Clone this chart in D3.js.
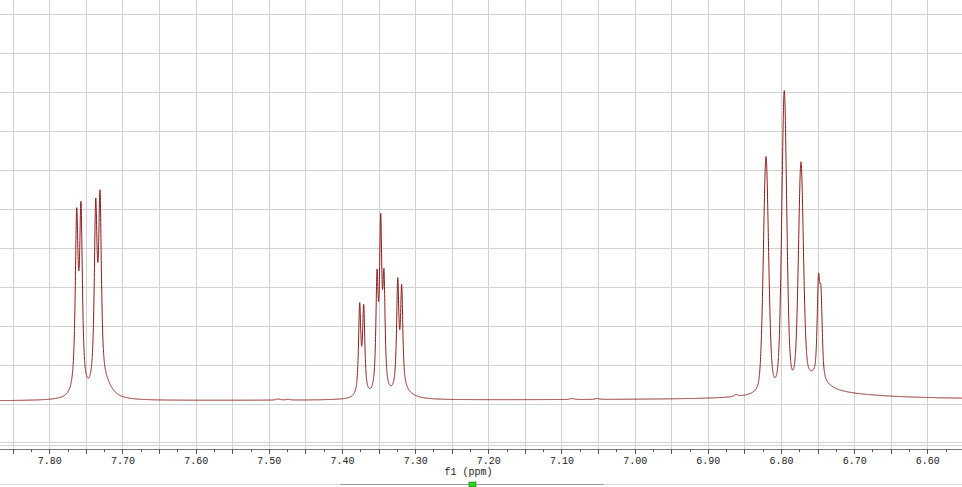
<!DOCTYPE html>
<html><head><meta charset="utf-8">
<script src="https://cdn.jsdelivr.net/npm/d3@7"></script>
<style>html,body{margin:0;padding:0;background:#fff;overflow:hidden}</style>
</head><body>
<svg id="chart" width="962" height="487"></svg>
<script>
// ---------- data ----------
const axisDomain = [7.8674, 6.5526];            // ppm at left / right edge
const labelTicks = [7.80, 7.70, 7.60, 7.50, 7.40, 7.30, 7.20, 7.10, 7.00, 6.90, 6.80, 6.70, 6.60];
const majorTicks = [7.85, 7.80, 7.75, 7.70, 7.65, 7.60, 7.55, 7.50, 7.45, 7.40, 7.35, 7.30, 7.25, 7.20,
                    7.15, 7.10, 7.05, 7.00, 6.95, 6.90, 6.85, 6.80, 6.75, 6.70, 6.65, 6.60, 6.55];
const gridLevels = [0, 1, 2, 3, 4, 5, 6, 7, 8, 9, 10];
const intensityDomain = [0, 10];
const axisTitle = "f1 (ppm)";

// resolved lines: position (ppm), observed top (intensity units), half width (ppm), lorentzian fraction
const peakPpm   = [7.7626, 7.7567, 7.7366, 7.7307,
                   7.3758, 7.3703, 7.3521, 7.3471, 7.3426, 7.3238, 7.3184,
                   6.8205, 6.7955, 6.7727, 6.7488, 6.7453];
const peakTop   = [5.026, 5.192, 5.274, 5.487,
                   2.597, 2.556, 3.454, 4.890, 3.462, 3.238, 3.069,
                   6.346, 8.038, 6.210, 3.326, 3.008];
const peakWidth = [0.00228, 0.00228, 0.00228, 0.00228,
                   0.00185, 0.00185, 0.00185, 0.00185, 0.00185, 0.00185, 0.00185,
                   0.00420, 0.00400, 0.00400, 0.00205, 0.00205];
const peakLorentz = [0.85, 0.85, 0.85, 0.85,
                   0.85, 0.85, 0.85, 0.85, 0.85, 0.85, 0.85,
                   0.3, 0.3, 0.3, 0.6, 0.6];

// broad humps / small baseline bumps (lorentzian, fixed height)
const humpPpm    = [7.7225, 7.3166, 6.7576, 6.7193, 7.4874, 7.4738, 7.0856, 7.0514, 6.8615];
const humpHeight = [0.308, 0.18, 0.42, 0.09, 0.03, 0.02, 0.03, 0.025, 0.05];
const humpWidth  = [0.0109, 0.0137, 0.0246, 0.0957, 0.003, 0.003, 0.003, 0.003, 0.003];

const baselinePpm   = [7.8674, 6.5526];
const baselineLevel = [0.08, 0.12];

// ---------- layout ----------
const W = 962, H = 487;
const axisY = 449;
const svg = d3.select("#chart");
svg.append("rect").attr("width", W).attr("height", H).attr("fill", "#fff");

const x = d3.scaleLinear().domain(axisDomain).range([0, W]);
const y = d3.scaleLinear().domain(intensityDomain).range([404, 14]);
const base = d3.scaleLinear().domain(baselinePpm).range(baselineLevel);

// grid
const grid = svg.append("g").attr("shape-rendering", "crispEdges").attr("stroke", "#d2d2d2").attr("stroke-width", 1);
grid.selectAll("line.h").data(gridLevels).join("line")
  .attr("x1", 0).attr("x2", W)
  .attr("y1", d => Math.round(y(d)) + 0.5).attr("y2", d => Math.round(y(d)) + 0.5);
grid.selectAll("line.v").data(majorTicks).join("line")
  .attr("y1", 0).attr("y2", axisY)
  .attr("x1", d => Math.round(x(d)) + 0.5).attr("x2", d => Math.round(x(d)) + 0.5);
[442, 445].forEach(v => grid.append("line").attr("x1", 0).attr("x2", W).attr("y1", v + 0.5).attr("y2", v + 0.5));

// spectrum model
function shape(dx, w, eta) {
  const t = dx / w;
  return eta / (1 + t * t) + (1 - eta) * Math.exp(-Math.LN2 * t * t);
}
function humps(p) {
  let s = 0;
  for (let j = 0; j < humpPpm.length; j++) {
    const t = (p - humpPpm[j]) / humpWidth[j];
    s += humpHeight[j] / (1 + t * t);
  }
  return s;
}
const target = peakPpm.map((p, i) => peakTop[i] - base(p) - humps(p));
const amp = target.slice();
for (let it = 0; it < 300; it++) {
  const model = peakPpm.map(pi => d3.sum(peakPpm, (pj, j) => amp[j] * shape(pi - pj, peakWidth[j], peakLorentz[j])));
  for (let i = 0; i < amp.length; i++) amp[i] += 0.6 * (target[i] - model[i]);
}
function intensity(p) {
  let s = base(p) + humps(p);
  for (let j = 0; j < peakPpm.length; j++) s += amp[j] * shape(p - peakPpm[j], peakWidth[j], peakLorentz[j]);
  return s;
}
const samplePpm = d3.range(axisDomain[0], axisDomain[1], -0.0001);
const trace = samplePpm.map(p => [p, intensity(p)]);

svg.append("path")
  .datum(trace)
  .attr("fill", "none")
  .attr("stroke", "#8b1a1a")
  .attr("stroke-width", 1)
  .attr("stroke-linejoin", "round")
  .attr("d", d3.line().x(d => x(d[0])).y(d => y(d[1])));

// axis
svg.append("line").attr("x1", 0).attr("x2", W).attr("y1", axisY + 0.5).attr("y2", axisY + 0.5)
  .attr("stroke", "#7a7a7a").attr("shape-rendering", "crispEdges");
const minorTicks = majorTicks.map(t => +(t - 0.025).toFixed(3)).concat([7.875]);
const ax = svg.append("g").attr("transform", `translate(0,${axisY})`);
ax.call(d3.axisBottom(x).tickValues(minorTicks).tickSize(3).tickSizeOuter(0).tickFormat(""));
ax.call(g => g.select(".domain").remove());
const ax2 = svg.append("g").attr("transform", `translate(0,${axisY})`);
ax2.call(d3.axisBottom(x).tickValues(majorTicks).tickSize(5).tickSizeOuter(0).tickPadding(3)
  .tickFormat(d => labelTicks.some(l => Math.abs(l - d) < 1e-6) ? d.toFixed(2) : ""));
ax2.call(g => g.select(".domain").remove());
svg.selectAll(".tick line").attr("stroke", "#555").attr("shape-rendering", "crispEdges");
svg.selectAll(".tick text").attr("font-family", "Liberation Mono, DejaVu Sans Mono, monospace")
  .attr("font-size", 10).attr("fill", "#222");

svg.append("text").attr("x", x(7.227)).attr("y", 475)
  .attr("text-anchor", "middle")
  .attr("font-family", "Liberation Mono, DejaVu Sans Mono, monospace")
  .attr("font-size", 10).attr("fill", "#222").text(axisTitle);

// scrollbar strip
svg.append("line").attr("x1", 0).attr("x2", W).attr("y1", 484.5).attr("y2", 484.5)
  .attr("stroke", "#dcdcdc").attr("shape-rendering", "crispEdges");
svg.append("line").attr("x1", 340).attr("x2", 604).attr("y1", 484.5).attr("y2", 484.5)
  .attr("stroke", "#9a9a9a").attr("shape-rendering", "crispEdges");
svg.append("rect").attr("x", 469).attr("y", 482).attr("width", 7).attr("height", 5)
  .attr("fill", "#22dd22").attr("stroke", "#226622").attr("stroke-width", 0.6);
</script>
</body></html>
